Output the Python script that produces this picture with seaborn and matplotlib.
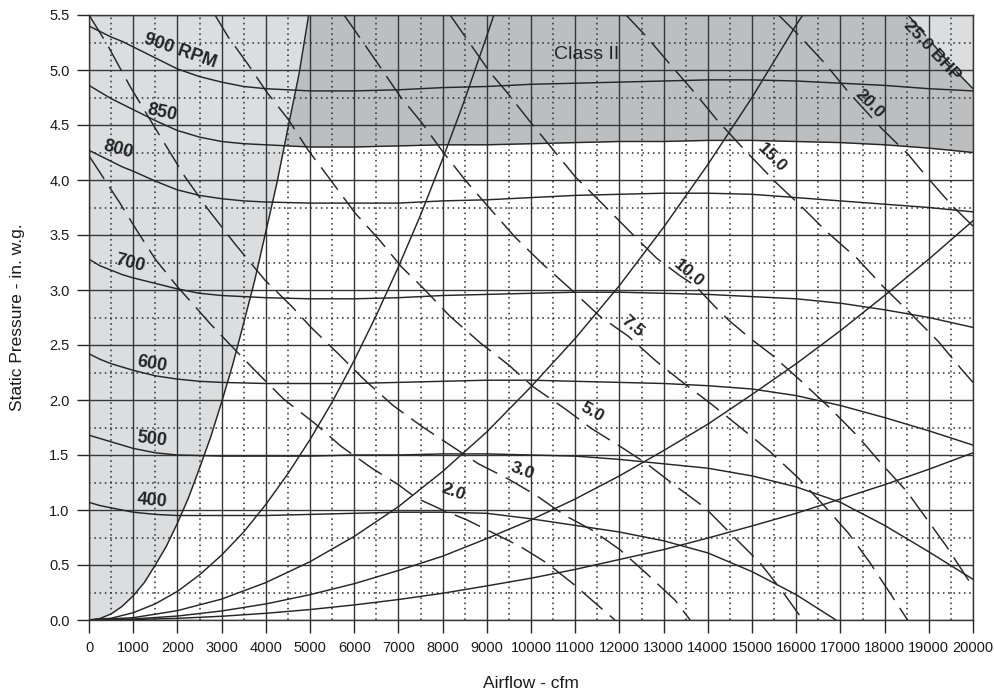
import matplotlib
matplotlib.use("Agg")
import matplotlib.pyplot as plt
import pandas as pd
import seaborn as sns
from matplotlib.ticker import MultipleLocator

sns.set_theme(style="white")
plt.rcParams['font.family'] = ['Liberation Sans', 'DejaVu Sans']

# ---------------- data ----------------
# fan speed curves (cfm, in. w.g.)
rpm_x_hi = [0, 250, 500, 750, 1000, 1500, 2000, 2500, 3000, 3500, 4000, 5000, 6000, 7000, 8000,
            9000, 10000, 11000, 12000, 13000, 14000, 15000, 16000, 17000, 18000, 19000, 20000]
rpm900_y = [5.40, 5.35, 5.30, 5.26, 5.21, 5.11, 5.01, 4.94, 4.89, 4.85, 4.83, 4.81, 4.81, 4.82, 4.84,
            4.85, 4.87, 4.88, 4.89, 4.90, 4.91, 4.91, 4.90, 4.88, 4.86, 4.83, 4.81]
rpm850_y = [4.86, 4.80, 4.74, 4.69, 4.64, 4.54, 4.45, 4.39, 4.35, 4.33, 4.32, 4.30, 4.30, 4.31, 4.32,
            4.32, 4.33, 4.34, 4.35, 4.35, 4.36, 4.36, 4.35, 4.34, 4.32, 4.29, 4.25]
rpm800_y = [4.27, 4.22, 4.17, 4.12, 4.08, 3.99, 3.91, 3.86, 3.83, 3.81, 3.80, 3.79, 3.79, 3.79, 3.81,
            3.82, 3.84, 3.86, 3.87, 3.88, 3.88, 3.87, 3.84, 3.81, 3.78, 3.75, 3.71]
rpm700_y = [3.28, 3.22, 3.18, 3.14, 3.11, 3.06, 3.01, 2.97, 2.95, 2.94, 2.93, 2.92, 2.92, 2.93, 2.95,
            2.96, 2.97, 2.98, 2.98, 2.97, 2.96, 2.94, 2.92, 2.88, 2.82, 2.75, 2.66]
rpm600_y = [2.42, 2.37, 2.33, 2.30, 2.27, 2.22, 2.19, 2.17, 2.16, 2.155, 2.15, 2.15, 2.15, 2.16, 2.17,
            2.18, 2.18, 2.17, 2.16, 2.15, 2.13, 2.10, 2.04, 1.95, 1.84, 1.72, 1.59]
rpm500_y = [1.68, 1.65, 1.62, 1.59, 1.56, 1.52, 1.50, 1.495, 1.49, 1.49, 1.49, 1.49, 1.50, 1.50, 1.51,
            1.51, 1.50, 1.49, 1.46, 1.42, 1.38, 1.31, 1.21, 1.07, 0.86, 0.62, 0.37]
rpm400_x = [0, 250, 500, 750, 1000, 1500, 2000, 3000, 4000, 5000, 6000, 7000, 8000, 9000, 10000,
            11000, 12000, 13000, 14000, 15000, 16000, 16900]
rpm400_y = [1.07, 1.04, 1.02, 1.00, 0.98, 0.96, 0.95, 0.95, 0.95, 0.96, 0.97, 0.98, 0.98, 0.97, 0.92,
            0.86, 0.80, 0.72, 0.61, 0.44, 0.23, 0.0]

# system curves
sysA_x = [0, 250, 500, 750, 1000, 1250, 1500, 1750, 2000, 2250, 2500, 2750, 3000, 3250, 3500,
          3750, 4000, 4250, 4500, 4750, 4970]
sysA_y = [0, 0.014, 0.055, 0.124, 0.22, 0.34, 0.50, 0.67, 0.88, 1.11, 1.38, 1.66, 1.98, 2.32, 2.70,
          3.09, 3.53, 3.97, 4.47, 4.96, 5.5]
sysB_x = [0, 500, 1000, 1500, 2000, 2500, 3000, 3500, 4000, 4500, 5000, 5500, 6000, 6500, 7000,
          7500, 8000, 8500, 9000, 9160]
sysB_y = [0, 0.016, 0.066, 0.147, 0.26, 0.41, 0.59, 0.80, 1.05, 1.33, 1.64, 1.98, 2.36, 2.77, 3.21,
          3.68, 4.19, 4.73, 5.31, 5.5]
sysC_x = [0, 1000, 2000, 3000, 4000, 5000, 6000, 7000, 8000, 9000, 10000, 11000, 12000, 13000,
          14000, 15000, 16000, 16150]
sysC_y = [0, 0.021, 0.085, 0.19, 0.34, 0.53, 0.76, 1.03, 1.35, 1.71, 2.12, 2.56, 3.04, 3.57,
          4.14, 4.75, 5.41, 5.5]
sysD_x = [0, 1000, 2000, 3000, 4000, 5000, 6000, 7000, 8000, 9000, 10000, 11000, 12000, 13000,
          14000, 15000, 16000, 17000, 18000, 19000, 20000]
sysD_y = [0, 0.009, 0.036, 0.082, 0.146, 0.23, 0.33, 0.45, 0.58, 0.74, 0.91, 1.10, 1.31, 1.54,
          1.78, 2.05, 2.33, 2.63, 2.95, 3.28, 3.63]
sysE_x = [0, 1000, 2000, 3000, 4000, 5000, 6000, 7000, 8000, 9000, 10000, 11000, 12000, 13000,
          14000, 15000, 16000, 17000, 18000, 19000, 20000]
sysE_y = [0, 0.004, 0.015, 0.034, 0.061, 0.095, 0.137, 0.186, 0.243, 0.31, 0.38, 0.46, 0.55, 0.64,
          0.745, 0.855, 0.97, 1.10, 1.23, 1.37, 1.52]

# brake horsepower lines
bhp2_x = [0, 700, 1100, 1500, 2000, 2400, 2750, 3200, 3800, 4400, 5100, 5700, 6400, 7000,
          7400, 8000, 8550, 9150, 9750, 10350, 10950, 11550, 11900]
bhp2_y = [4.22, 3.79, 3.53, 3.28, 3.03, 2.85, 2.69, 2.50, 2.25, 2.01, 1.79, 1.58, 1.38, 1.23,
          1.11, 1.00, 0.91, 0.79, 0.67, 0.52, 0.33, 0.12, 0.0]
bhp3_x = [0, 400, 930, 1530, 2170, 2700, 3300, 3980, 4590, 5000, 5640, 6240, 6880, 7530,
          8170, 8810, 9450, 10090, 10770, 11370, 12010, 12620, 13260, 13600]
bhp3_y = [5.5, 5.24, 4.85, 4.45, 4.03, 3.73, 3.42, 3.09, 2.85, 2.67, 2.42, 2.18, 1.95, 1.76,
          1.59, 1.42, 1.29, 1.14, 0.95, 0.82, 0.64, 0.42, 0.18, 0.0]
bhp5_x = [2850, 3150, 3600, 4020, 4510, 4960, 5410, 6020, 6580, 7070, 7530, 8170, 8850, 9490,
          10050, 10770, 11370, 12010, 12620, 13300, 13940, 14580, 15180, 15670, 16150]
bhp5_y = [5.5, 5.30, 5.05, 4.80, 4.55, 4.27, 4.03, 3.70, 3.45, 3.21, 3.03, 2.76, 2.52, 2.32,
          2.12, 1.92, 1.74, 1.58, 1.42, 1.21, 1.02, 0.76, 0.52, 0.27, 0.0]
bhp75_x = [5770, 6170, 6600, 7040, 7530, 7980, 8510, 9070, 9640, 10280, 10920, 11560, 12200,
           12840, 13370, 14120, 14770, 15410, 16050, 16650, 17180, 17670, 18080, 18520]
bhp75_y = [5.5, 5.27, 5.02, 4.76, 4.52, 4.27, 4.00, 3.74, 3.48, 3.23, 3.00, 2.76, 2.58,
           2.35, 2.18, 1.95, 1.74, 1.53, 1.29, 1.03, 0.79, 0.52, 0.27, 0.0]
bhp10_x = [8170, 8620, 9070, 9450, 9940, 10470, 11000, 11600, 12240, 12840, 13370, 13710,
           14160, 14460, 14960, 15450, 16090, 16730, 17370, 17930, 18500, 18950, 19400, 19820, 20000]
bhp10_y = [5.5, 5.24, 4.98, 4.80, 4.55, 4.29, 4.03, 3.79, 3.53, 3.29, 3.13, 3.04, 2.85,
           2.73, 2.56, 2.41, 2.18, 1.94, 1.68, 1.42, 1.17, 0.92, 0.67, 0.41, 0.30]
bhp15_x = [12150, 12620, 13150, 13710, 14200, 14840, 15560, 16090, 16690, 17370, 17970,
           18580, 19220, 19780, 20000]
bhp15_y = [5.5, 5.30, 5.05, 4.79, 4.55, 4.27, 3.97, 3.77, 3.53, 3.29, 3.03, 2.79, 2.53, 2.26, 2.16]
bhp20_x = [15600, 16050, 16650, 17180, 17930, 18540, 18910, 19520, 20000]
bhp20_y = [5.5, 5.32, 5.06, 4.80, 4.47, 4.23, 4.05, 3.77, 3.58]
bhp25_x = [18530, 19660, 20000]
bhp25_y = [5.5, 4.97, 4.83]

x_ticks = list(range(0, 20001, 1000))
y_ticks = [0.0, 0.5, 1.0, 1.5, 2.0, 2.5, 3.0, 3.5, 4.0, 4.5, 5.0, 5.5]

rpm_labels = ["900 RPM", "850", "800", "700", "600", "500", "400"]
rpm_label_x = [2072, 1645, 663, 928, 1433, 1433, 1433]
rpm_label_y = [5.17, 4.61, 4.28, 3.24, 2.33, 1.64, 1.08]
rpm_label_rot = [-19, -12, -15, -14, -10, -7, -5]

bhp_labels = ["2.0", "3.0", "5.0", "7.5", "10.0", "15.0", "20.0", "25.0 BHP"]
bhp_label_x = [8250, 9800, 11395, 12285, 13560, 15445, 17655, 19065]
bhp_label_y = [1.16, 1.36, 1.89, 2.67, 3.15, 4.20, 4.69, 5.18]
bhp_label_rot = [-20, -20, -30, -40, -40, -45, -45, -47]

# ---------------- drawing ----------------
INK = '#262626'
GRID = '#363636'
LIGHT = '#dcdddf'
DARK = '#bdbec0'

fig = plt.figure(figsize=(9.95, 6.95), dpi=100)
ax = fig.add_axes([89 / 995, 75 / 695, 884 / 995, 605 / 695])
ax.set_xlim(0, 20000)
ax.set_ylim(0, 5.5)

# shaded regions
ax.fill_between(rpm_x_hi, rpm850_y, 5.5, color=DARK, lw=0, zorder=0)
ax.fill_between(sysA_x, sysA_y, 5.5, color=LIGHT, lw=0, zorder=0.1)
ax.fill_between(bhp25_x, bhp25_y, 5.5, color=LIGHT, lw=0, zorder=0.1)

# grid
ax.xaxis.set_major_locator(MultipleLocator(1000))
ax.xaxis.set_minor_locator(MultipleLocator(500))
ax.yaxis.set_major_locator(MultipleLocator(0.5))
ax.yaxis.set_minor_locator(MultipleLocator(0.25))
ax.set_axisbelow(True)
ax.grid(which='major', color=GRID, lw=1.0, ls='-', zorder=0.5)
ax.grid(which='minor', color=GRID, lw=1.15, ls=(0, (1, 2.3)), zorder=0.5)

def curve(xs, ys, dashed=False):
    df = pd.DataFrame({"cfm": xs, "sp": ys})
    kw = dict(color=INK, lw=1.05, sort=False, estimator=None, ax=ax, zorder=3)
    if dashed:
        kw["linestyle"] = (0, (19, 6.5))
    sns.lineplot(data=df, x="cfm", y="sp", **kw)

for ys in [rpm900_y, rpm850_y, rpm800_y, rpm700_y, rpm600_y, rpm500_y]:
    curve(rpm_x_hi, ys)
curve(rpm400_x, rpm400_y)

for xs, ys in [(sysA_x, sysA_y), (sysB_x, sysB_y), (sysC_x, sysC_y),
               (sysD_x, sysD_y), (sysE_x, sysE_y)]:
    curve(xs, ys)

for xs, ys in [(bhp2_x, bhp2_y), (bhp3_x, bhp3_y), (bhp5_x, bhp5_y), (bhp75_x, bhp75_y),
               (bhp10_x, bhp10_y), (bhp15_x, bhp15_y), (bhp20_x, bhp20_y), (bhp25_x, bhp25_y)]:
    curve(xs, ys, dashed=True)

for s, x, y, r in zip(rpm_labels, rpm_label_x, rpm_label_y, rpm_label_rot):
    ax.text(x, y, s, rotation=r, rotation_mode='anchor', ha='center', va='center',
            fontsize=13, fontweight='bold', color='#232323', zorder=5)
for s, x, y, r in zip(bhp_labels, bhp_label_x, bhp_label_y, bhp_label_rot):
    ax.text(x, y, s, rotation=r, rotation_mode='anchor', ha='center', va='center',
            fontsize=12.5, fontweight='bold', color='#232323', zorder=5)
ax.text(11260, 5.14, "Class II", ha='center', va='center', fontsize=14, color='#232323', zorder=5)

# axes, ticks, labels
ax.set_xticks(x_ticks)
ax.set_xticklabels([str(v) for v in x_ticks])
ax.set_yticks(y_ticks)
ax.set_yticklabels([f"{v:.1f}" for v in y_ticks])
ax.tick_params(which='major', direction='out', length=9, width=1.0, color=INK,
               bottom=True, left=True, labelsize=10.5, labelcolor='#1a1a1a')
ax.tick_params(axis='x', pad=6)
ax.tick_params(axis='y', pad=5)
ax.tick_params(which='minor', length=0)
for sp in ax.spines.values():
    sp.set_color(GRID)
    sp.set_linewidth(1.0)
    sp.set_visible(True)

ax.set_xlabel("Airflow - cfm", fontsize=12.5, color='#1a1a1a', labelpad=15)
ax.set_ylabel("Static Pressure - in. w.g.", fontsize=12.5, color='#1a1a1a', labelpad=17)

fig.savefig("out.png", dpi=100)
